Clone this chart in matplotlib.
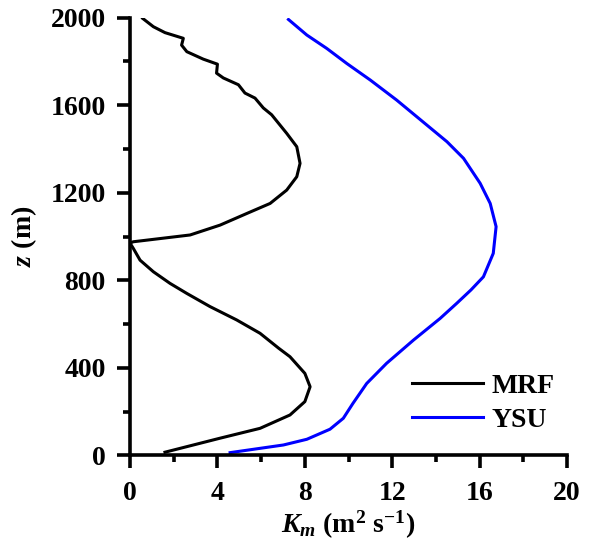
import matplotlib
matplotlib.use('Agg')
import matplotlib.pyplot as plt
from matplotlib.ticker import MultipleLocator

plt.rcParams['font.family'] = 'Liberation Serif'
plt.rcParams['font.weight'] = 'bold'
plt.rcParams['font.size'] = 20
plt.rcParams['mathtext.fontset'] = 'custom'
plt.rcParams['mathtext.rm'] = 'Liberation Serif:weight=bold'
plt.rcParams['mathtext.it'] = 'Liberation Serif:style=italic:weight=bold'
plt.rcParams['mathtext.bf'] = 'Liberation Serif:weight=bold'

# MRF profile (Km, z)
mrf_km = [1.6, 4.12, 5.95, 7.32, 8.0, 8.24, 8.0, 7.32, 6.8, 5.95, 4.88, 3.66, 2.6,
          1.83, 1.07, 0.46, 0.15, 0.0, 0.15, 2.75, 4.12, 5.34, 6.41, 7.17, 7.63,
          7.78, 7.63, 7.17, 6.48, 6.1, 5.72, 5.26, 4.96, 4.27, 3.96, 4.0, 3.35,
          2.6, 2.36, 2.44, 1.6, 1.07, 0.58]
mrf_z = [15, 79, 124, 185, 246, 314, 375, 451, 490, 558, 619, 680, 740,
         786, 839, 892, 946, 970, 976, 1007, 1052, 1105, 1151, 1212, 1273,
         1334, 1410, 1471, 1556, 1587, 1632, 1655, 1693, 1724, 1746, 1787, 1810,
         1844, 1874, 1905, 1931, 1958, 1996]

# YSU profile (Km, z)
ysu_km = [4.58, 7.02, 8.09, 9.15, 9.76, 10.2, 10.83, 11.74, 12.97, 14.19, 14.95,
          15.6, 16.17, 16.62, 16.75, 16.48, 16.02, 15.26, 14.5, 13.58, 12.2,
          11.0, 9.92, 9.0, 8.09, 7.25]
ysu_z = [13, 48, 74, 120, 170, 238, 329, 421, 527, 626, 695,
         756, 816, 923, 1045, 1151, 1243, 1357, 1433, 1509, 1623,
         1714, 1790, 1859, 1920, 1991]

fig = plt.figure(figsize=(5.92, 5.44), dpi=100)
ax = fig.add_axes([0.2196, 0.1627, 0.7384, 0.8051])

ax.plot(mrf_km, mrf_z, color='black', lw=2.2, label='MRF')
ax.plot(ysu_km, ysu_z, color='#0000ff', lw=2.2, label='YSU')

ax.set_xlim(0, 20)
ax.set_ylim(0, 2000)
ax.xaxis.set_major_locator(MultipleLocator(4))
ax.xaxis.set_minor_locator(MultipleLocator(2))
ax.yaxis.set_major_locator(MultipleLocator(400))
ax.yaxis.set_minor_locator(MultipleLocator(200))

for s in ['top', 'right']:
    ax.spines[s].set_visible(False)
for s in ['left', 'bottom']:
    ax.spines[s].set_linewidth(2.6)

ax.tick_params(which='major', direction='out', length=9.5, width=2.6)
ax.tick_params(which='minor', direction='out', length=5, width=2.6)
ax.tick_params(axis='x', which='major', pad=9)
ax.tick_params(axis='y', which='major', pad=8)

ax.set_xlabel(r'$\mathit{K}_{\mathit{m}}\ \mathrm{(m^{2}\ s^{-1})}$', labelpad=2)
ax.set_ylabel(r'$\mathit{z}\ \mathrm{(m)}$', labelpad=8)

ax.legend(loc='center left', bbox_to_anchor=(0.645, 0.12), frameon=False,
          handlelength=2.55, handletextpad=0.3, labelspacing=0.3,
          borderpad=0, borderaxespad=0)

fig.savefig('out.png', dpi=100)
